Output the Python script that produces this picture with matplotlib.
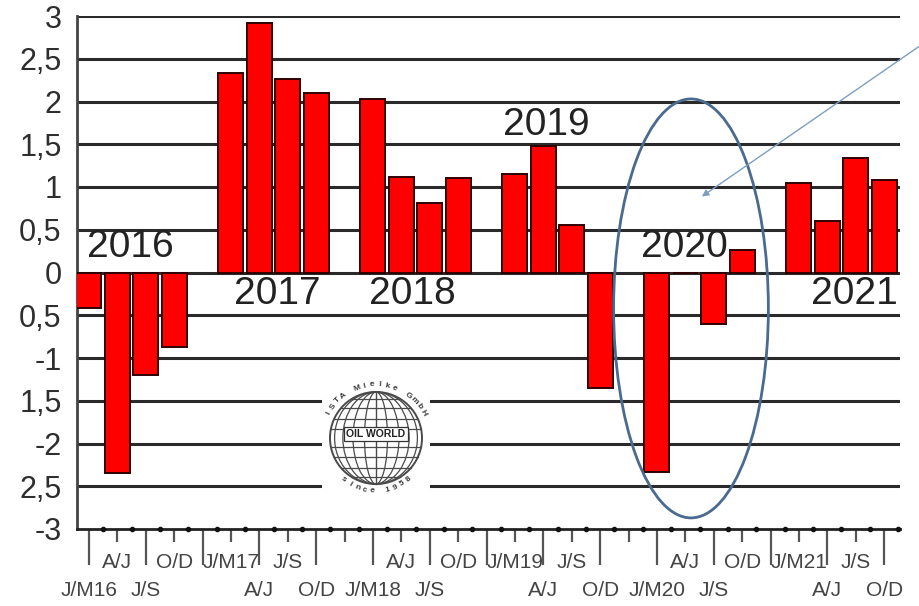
import numpy as np
import matplotlib
matplotlib.use("Agg")
import matplotlib.pyplot as plt
from matplotlib.patches import Ellipse, Circle

plt.rcParams['font.family'] = ['Liberation Sans', 'DejaVu Sans']

# ---- data (29 category slots, empty slots separate the years) ----
quarters = ['J/M16', 'A/J', 'J/S', 'O/D', '',
            'J/M17', 'A/J', 'J/S', 'O/D', '',
            'J/M18', 'A/J', 'J/S', 'O/D', '',
            'J/M19', 'A/J', 'J/S', 'O/D', '',
            'J/M20', 'A/J', 'J/S', 'O/D', '',
            'J/M21', 'A/J', 'J/S', 'O/D']
values = [-0.42, -2.35, -1.20, -0.87, np.nan,
          2.33, 2.92, 2.26, 2.10, np.nan,
          2.03, 1.12, 0.81, 1.11, np.nan,
          1.15, 1.48, 0.55, -1.35, np.nan,
          -2.33, 0.0, -0.60, 0.26, np.nan,
          1.05, 0.60, 1.34, 1.08]
ytick_vals = [-3, -2.5, -2, -1.5, -1, -0.5, 0, 0.5, 1, 1.5, 2, 2.5, 3]
ytick_labels = ['-3', '2,5', '-2', '1,5', '-1', '0,5', '0', '0,5', '1', '1,5', '2', '2,5', '3']
years = ['2016', '2017', '2018', '2019', '2020', '2021']
year_pos = [(1.45, 0.30), (6.65, -0.25), (11.4, -0.25), (16.1, 1.72), (20.95, 0.30), (26.95, -0.25)]

W, H = 920, 606
fig = plt.figure(figsize=(W / 100, H / 100), dpi=100)
L, R, T, B = 77, 900, 16, 529
ax = fig.add_axes([L / W, 1 - B / H, (R - L) / W, (B - T) / H])

x = np.arange(len(quarters))
ax.bar(x, values, width=0.88, color='#ff0000', edgecolor='#300000', linewidth=1.4, zorder=3)

ax.set_xlim(-0.42, 28.56)
ax.set_ylim(-3, 3)

# gridlines
for v in ytick_vals[1:]:
    ax.axhline(v, color='#2a2a2a', lw=2.2, zorder=1)

ax.set_yticks(ytick_vals)
ax.set_yticklabels(ytick_labels, fontsize=22, color='#2e2e2e')
ax.tick_params(axis='y', length=0, pad=11)

for s in ['top', 'right']:
    ax.spines[s].set_visible(False)
ax.spines['left'].set_color('#444444')
ax.spines['left'].set_linewidth(2)
ax.spines['bottom'].set_color('#222222')
ax.spines['bottom'].set_linewidth(2)

# x ticks: long at even slots, short at odd slots
ax.set_xticks(x[::2])
ax.set_xticks(x[1::2], minor=True)
ax.set_xticklabels([])
ax.tick_params(axis='x', which='major', length=26, width=1.6, color='#555555')
ax.tick_params(axis='x', which='minor', length=9, width=1.6, color='#555555')
# dots on the axis between ticks
ax.plot(x + 0.5, np.full(len(x), -3.0), 'o', ms=3, color='#111111', clip_on=False, zorder=5)

# staggered category labels
for i, lab in enumerate(quarters):
    if not lab:
        continue
    yy = -0.119 if i % 2 == 0 else -0.066
    ax.text(i, yy, lab, transform=ax.get_xaxis_transform(), ha='center', va='center',
            fontsize=15, color='#444444', clip_on=False)

# year labels
for yr, (px, py) in zip(years, year_pos):
    ax.text(px, py, yr, fontsize=28, color='#222222', ha='center', va='center', zorder=4)

# ellipse around 2020
ax.add_patch(Ellipse((21.2, -0.42), 5.45, 4.9, fill=False, edgecolor='#4a6a8f', lw=2, zorder=6))
# arrow
ax.annotate('', xy=(21.5, 0.87), xytext=(29.3, 2.66), xycoords='data',
            arrowprops=dict(arrowstyle='-|>', color='#7d9fc0', lw=1, mutation_scale=10),
            annotation_clip=False, zorder=6)

# logo (OIL WORLD globe)
cx, cy, rp = 376, 438, 46
lx0, lx1, ly0, ly1 = 322, 430, 366, 494
lax = fig.add_axes([lx0 / W, 1 - ly1 / H, (lx1 - lx0) / W, (ly1 - ly0) / H])
lax.set_xlim((lx0 - cx) / rp, (lx1 - cx) / rp)
lax.set_ylim((cy - ly1) / rp, (cy - ly0) / rp)
lax.set_facecolor('white')
lax.axis('off')
lax.add_patch(plt.Rectangle((-5, -5), 10, 10, color='white', zorder=0))
gc = '#4a4a4a'
lax.add_patch(Circle((0, 0), 1, fill=False, ec=gc, lw=1.4))
lax.plot([0, 0], [-1, 1], color=gc, lw=1.0)
for f in [0.25, 0.5, 0.72, 0.9]:
    lax.add_patch(Ellipse((0, 0), 2 * f, 2, fill=False, ec=gc, lw=0.9))
for yv in [-0.85, -0.65, -0.42, -0.2, 0.2, 0.42, 0.65, 0.85]:
    hw = np.sqrt(1 - yv ** 2)
    lax.plot([-hw, hw], [yv, yv], color=gc, lw=0.9)
lax.text(0, 0.08, 'OIL WORLD', ha='center', va='center', fontsize=7.5, fontweight='bold',
         color='#222222', bbox=dict(boxstyle='square,pad=0.2', fc='white', ec='#333333', lw=0.9))
top_txt = 'ISTA Mielke GmbH'
angs = np.linspace(152, 28, len(top_txt))
for ch, a in zip(top_txt, angs):
    r = np.deg2rad(a)
    lax.text(1.16 * np.cos(r), 1.16 * np.sin(r), ch, rotation=a - 90, ha='center', va='center',
             fontsize=6, color='#3a3a3a', fontweight='bold')
bot_txt = 'since 1958'
angs = np.linspace(232, 308, len(bot_txt))
for ch, a in zip(bot_txt, angs):
    r = np.deg2rad(a)
    lax.text(1.15 * np.cos(r), 1.15 * np.sin(r), ch, rotation=a + 90, ha='center', va='center',
             fontsize=6, color='#3a3a3a', fontweight='bold')

fig.savefig('out.png', dpi=100)
